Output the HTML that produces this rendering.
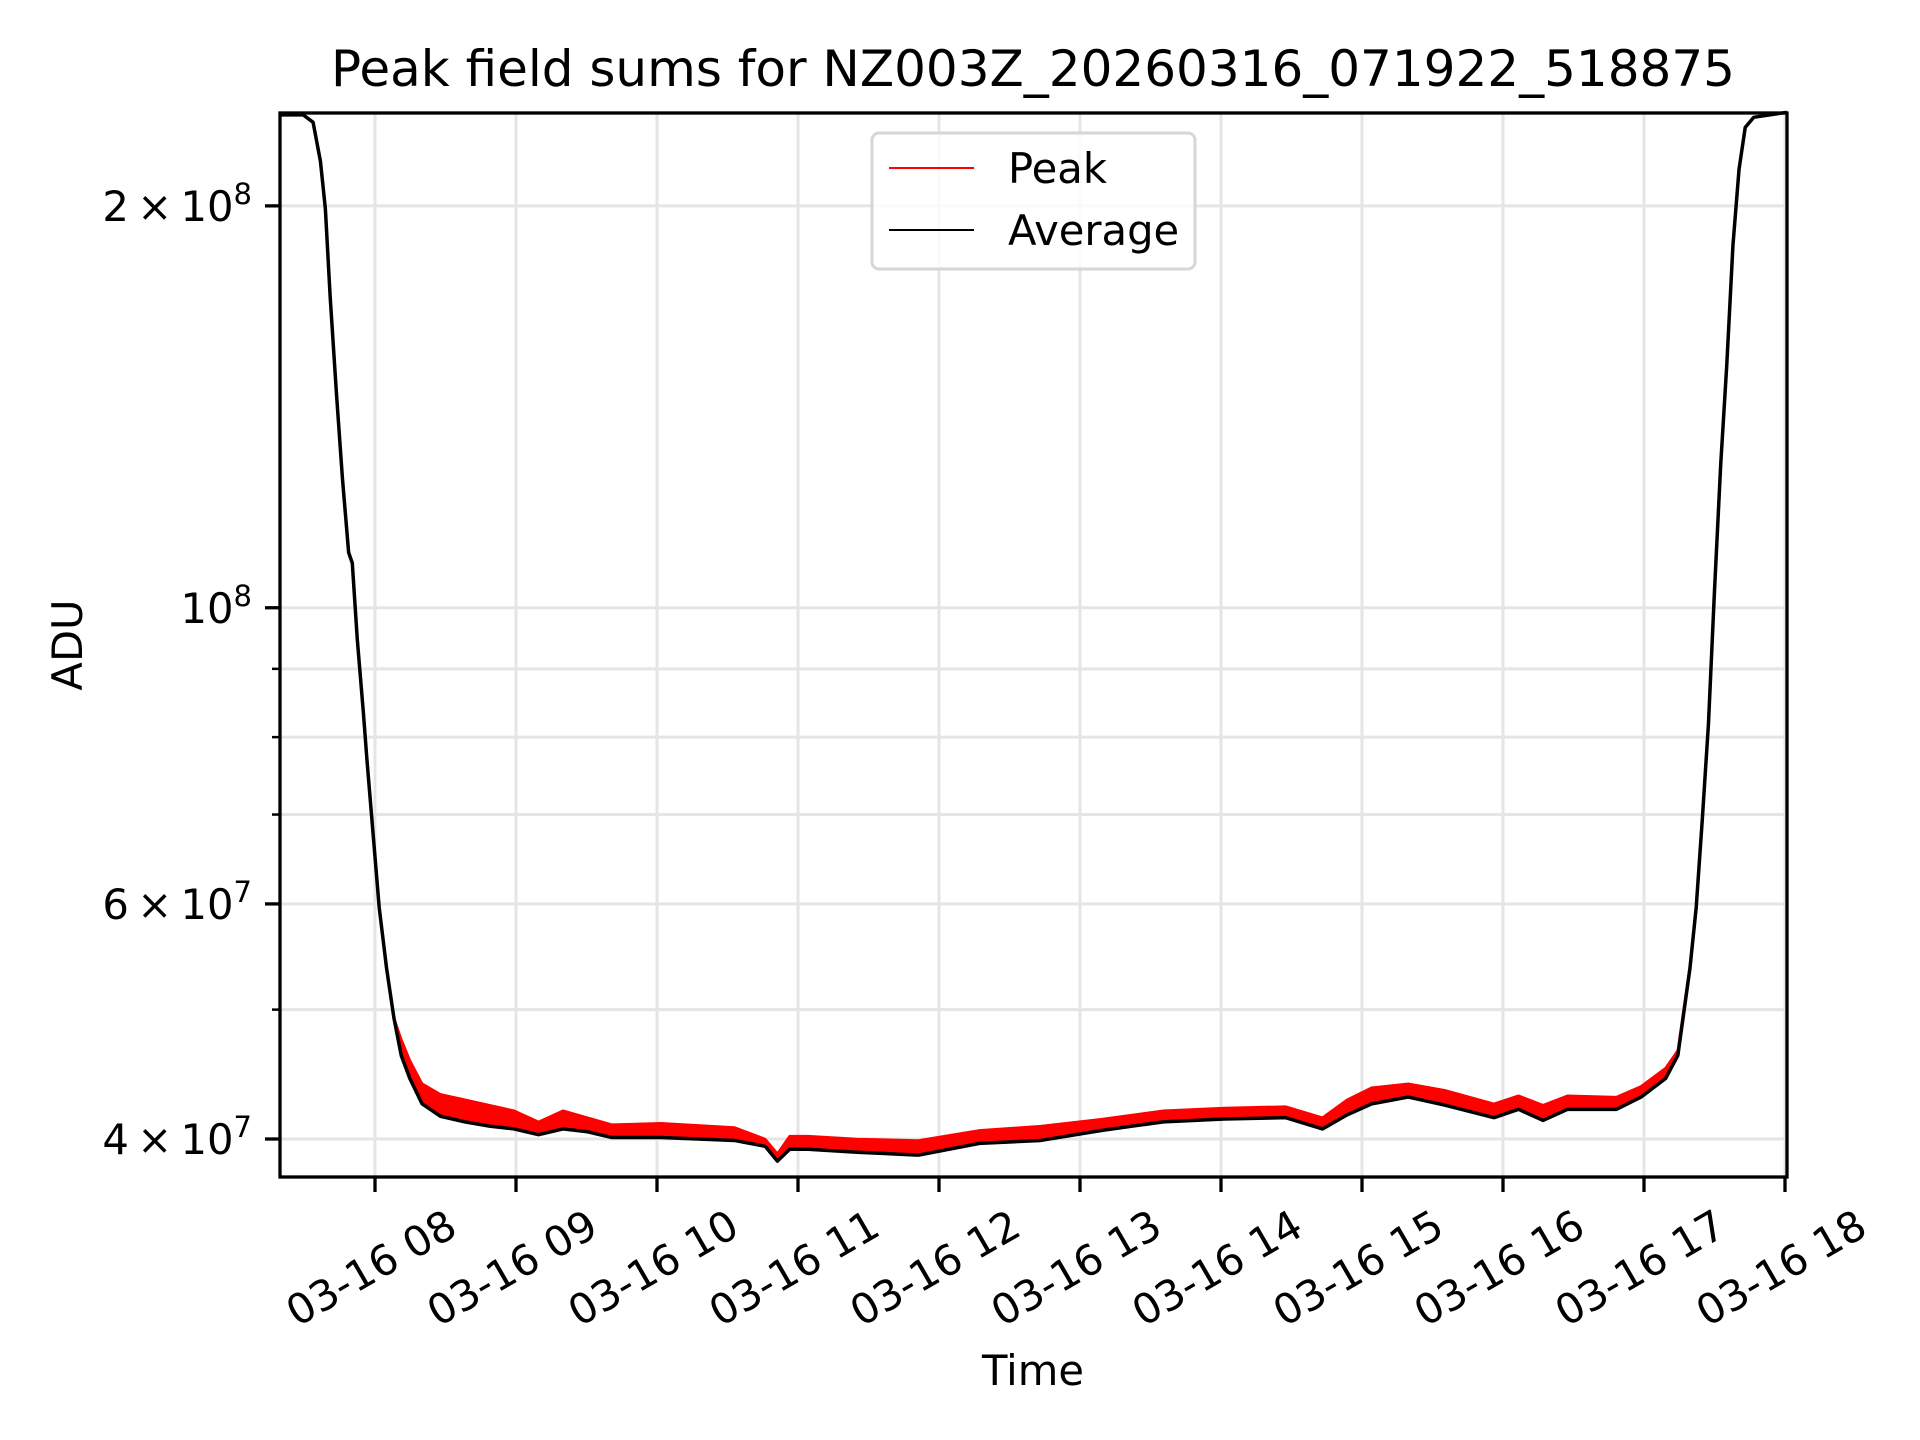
<!DOCTYPE html>
<html><head><meta charset="utf-8"><style>
html,body{margin:0;padding:0;background:#fff;}
svg{display:block;font-family:"DejaVu Sans","Liberation Sans",sans-serif;}
</style></head><body>
<svg id="chart" width="1920" height="1440" viewBox="0 0 1920 1440" xmlns="http://www.w3.org/2000/svg">
<rect width="1920" height="1440" fill="#fff"/>
<text x="1033" y="86" font-size="50" text-anchor="middle">Peak field sums for NZ003Z_20260316_071922_518875</text>
<g id="grid"></g>
<g id="series"></g>
<g id="axes"></g>
<text transform="translate(82,645) rotate(-90)" font-size="41.7" text-anchor="middle">ADU</text>
<text x="1033" y="1385" font-size="41.7" text-anchor="middle">Time</text>
<g>
<rect x="872" y="133" width="323" height="136" rx="7" fill="#fff" fill-opacity="0.8" stroke="#d6d6d6" stroke-width="3"/>
<line x1="889" y1="168" x2="974" y2="168" stroke="#f00" stroke-width="2"/>
<text x="1008" y="183" font-size="41.7">Peak</text>
<line x1="889" y1="230" x2="974" y2="230" stroke="#000" stroke-width="2"/>
<text x="1008" y="245" font-size="41.7">Average</text>
</g>
</svg>
<script>
const times = [7.326,7.491,7.561,7.613,7.648,7.682,7.726,7.769,7.813,7.839,7.874,7.917,7.943,7.986,8.030,8.082,8.134,8.186,8.247,8.334,8.464,8.638,8.812,8.986,9.160,9.334,9.507,9.681,10.029,10.550,10.767,10.854,10.941,11.071,11.419,11.853,12.287,12.722,13.156,13.591,14.025,14.459,14.720,14.894,15.068,15.328,15.589,15.936,16.110,16.284,16.458,16.805,16.979,17.153,17.240,17.326,17.370,17.413,17.457,17.500,17.544,17.587,17.631,17.674,17.718,17.778,17.891,18.013];
const averageValues = [23.4,23.4,23.1,21.6,19.9,17.1,14.5,12.5,11.0,10.8,9.48,8.36,7.69,6.78,5.96,5.37,4.93,4.62,4.44,4.25,4.16,4.12,4.09,4.07,4.03,4.07,4.05,4.01,4.01,3.99,3.95,3.85,3.93,3.93,3.91,3.89,3.97,3.99,4.06,4.12,4.14,4.15,4.07,4.17,4.25,4.30,4.24,4.15,4.21,4.13,4.21,4.21,4.30,4.44,4.62,5.37,5.96,6.93,8.18,10.3,12.8,15.2,18.7,21.3,22.9,23.3,23.4,23.5];
const peakValues = [23.4,23.4,23.1,21.6,19.9,17.1,14.5,12.5,11.0,10.8,9.48,8.36,7.69,6.78,5.96,5.37,4.93,4.75,4.58,4.40,4.32,4.28,4.24,4.20,4.12,4.20,4.15,4.10,4.11,4.08,4.00,3.90,4.02,4.02,4.00,3.99,4.06,4.09,4.14,4.20,4.22,4.23,4.15,4.28,4.37,4.40,4.35,4.25,4.31,4.24,4.31,4.30,4.38,4.52,4.66,5.40,5.98,6.95,8.20,10.3,12.8,15.2,18.7,21.3,22.9,23.3,23.4,23.5];
const xTickHours = [8,9,10,11,12,13,14,15,16,17,18];
const xTickLabels = ["03-16 08","03-16 09","03-16 10","03-16 11","03-16 12","03-16 13","03-16 14","03-16 15","03-16 16","03-16 17","03-16 18"];
const yMajorTicks = [4,6,10,20];
const yMajorLabels = [["4","7"],["6","7"],["","8"],["2","8"]];
const yMinorTicks = [5,7,8,9];

const L=280,R=1787,T=113,B=1177;
const x = h => 375 + (h-8)*141;
const y = v => 1139 - (Math.log10(v) - Math.log10(4))*1335;
const NS="http://www.w3.org/2000/svg";
function mk(tag, parent){const e=document.createElementNS(NS,tag);parent.appendChild(e);return e;}
const grid=document.getElementById('grid'), axes=document.getElementById('axes'), series=document.getElementById('series');

xTickHours.forEach((h,i)=>{
  const g=mk('line',grid);
  
  
  g.setAttribute('x1',x(h));g.setAttribute('x2',x(h));g.setAttribute('y1',T);g.setAttribute('y2',B);
  g.setAttribute('stroke','#e5e5e5');g.setAttribute('stroke-width','3');
  const t=mk('line',axes);
  
  
  t.setAttribute('x1',x(h));t.setAttribute('x2',x(h));t.setAttribute('y1',B);t.setAttribute('y2',B+15);
  t.setAttribute('stroke','#000');t.setAttribute('stroke-width','3.3');
  const lb=mk('text',axes);
  
  
  lb.setAttribute('transform',`translate(${x(h)-4},1268) rotate(-30)`);
  lb.setAttribute('text-anchor','middle');lb.setAttribute('dominant-baseline','central');lb.setAttribute('font-size','41.7');
  lb.textContent=xTickLabels[i];
});
yMajorTicks.concat(yMinorTicks).forEach((v,i)=>{
  const g=mk('line',grid);
  
  
  g.setAttribute('x1',L);g.setAttribute('x2',R);g.setAttribute('y1',y(v));g.setAttribute('y2',y(v));
  g.setAttribute('stroke','#e5e5e5');g.setAttribute('stroke-width','3');
  const major=i<yMajorTicks.length;
  const t=mk('line',axes);
  
  
  t.setAttribute('x1',L-(major?15:8));t.setAttribute('x2',L);t.setAttribute('y1',y(v));t.setAttribute('y2',y(v));
  t.setAttribute('stroke','#000');t.setAttribute('stroke-width',major?'3.3':'2.5');
  if(major){
    const lb=mk('text',axes);
    
    
    lb.setAttribute('x',L-28);lb.setAttribute('y',y(v)+15);lb.setAttribute('text-anchor','end');lb.setAttribute('font-size','41.7');
    const [m,e]=yMajorLabels[i];
    lb.innerHTML=(m?m+'\u2009\u00d7\u200910':'10')+`<tspan dy="-17" font-size="29">${e}</tspan>`;
  }
});
const band=mk('polygon',series);


band.setAttribute('points',times.map((h,i)=>x(h)+','+y(peakValues[i])).concat(times.slice().reverse().map((h,j)=>{const i=times.length-1-j;return x(h)+','+y(averageValues[i]);})).join(' '));
band.setAttribute('fill','#f00');
const pk=mk('polyline',series);


pk.setAttribute('points',times.map((h,i)=>x(h)+','+y(peakValues[i])).join(' '));
pk.setAttribute('fill','none');pk.setAttribute('stroke','#f00');pk.setAttribute('stroke-width','2.5');
const av=mk('polyline',series);


av.setAttribute('points',times.map((h,i)=>x(h)+','+y(averageValues[i])).join(' '));
av.setAttribute('fill','none');av.setAttribute('stroke','#000');av.setAttribute('stroke-width','3.5');av.setAttribute('stroke-linejoin','round');
const fr=mk('rect',axes);


fr.setAttribute('x',L);fr.setAttribute('y',T);fr.setAttribute('width',R-L);fr.setAttribute('height',B-T);
fr.setAttribute('fill','none');fr.setAttribute('stroke','#000');fr.setAttribute('stroke-width','3.3');
</script>
</body></html>
